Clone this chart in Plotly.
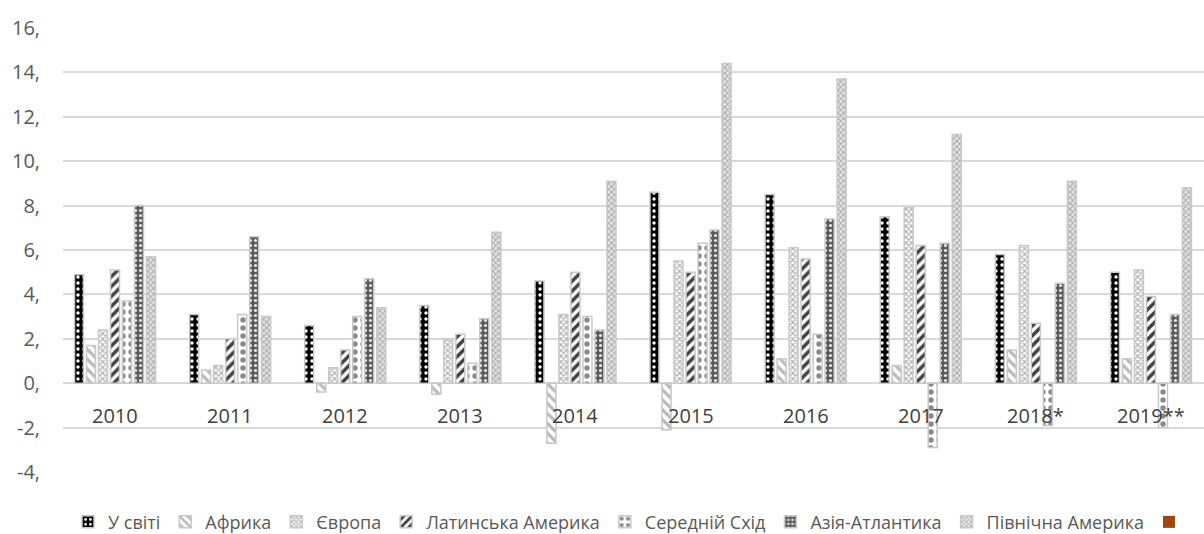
import plotly.graph_objects as go

# Annual growth by region, %
years = ["2010", "2011", "2012", "2013", "2014", "2015", "2016", "2017", "2018*", "2019**"]

world = [4.9, 3.1, 2.6, 3.5, 4.6, 8.6, 8.5, 7.5, 5.8, 5.0]
africa = [1.7, 0.6, -0.4, -0.5, -2.7, -2.1, 1.1, 0.8, 1.5, 1.1]
europe = [2.4, 0.8, 0.7, 2.0, 3.1, 5.5, 6.1, 7.9, 6.2, 5.1]
latam = [5.1, 2.0, 1.5, 2.2, 5.0, 5.0, 5.6, 6.2, 2.7, 3.9]
mideast = [3.7, 3.1, 3.0, 0.9, 3.0, 6.3, 2.2, -2.9, -1.9, -2.0]
asia = [8.0, 6.6, 4.7, 2.9, 2.4, 6.9, 7.4, 6.3, 4.5, 3.1]
namerica = [5.7, 3.0, 3.4, 6.8, 9.1, 14.4, 13.7, 11.2, 9.1, 8.8]

series_names = ["У світі", "Африка", "Європа", "Латинська Америка",
                "Середній Схід", "Азія-Атлантика", "Північна Америка"]

ytick_vals = [-4, -2, 0, 2, 4, 6, 8, 10, 12, 14, 16]
ytick_text = ["-4,", "-2,", "0,", "2,", "4,", "6,", "8,", "10,", "12,", "14,", "16,"]

FONT = "Open Sans"

# pattern styles per series: (shape, bg, fg, size, solidity)
styles = [
    (".", "#000000", "#ffffff", 6, 0.25),
    ("\\", "#ffffff", "#b8b8b8", 7, 0.45),
    ("x", "#ffffff", "#b0b0b0", 4, 0.5),
    ("/", "#ffffff", "#404040", 7, 0.5),
    (".", "#ffffff", "#8a8a8a", 8, 0.35),
    (".", "#5a5a5a", "#e8e8e8", 5, 0.3),
    ("x", "#e6e6e6", "#a8a8a8", 4, 0.45),
]

values = [world, africa, europe, latam, mideast, asia, namerica]

fig = go.Figure()
for name, vals, (shape, bg, fg, size, sol) in zip(series_names, values, styles):
    fig.add_trace(go.Bar(
        x=years, y=vals, name=name,
        marker=dict(
            color=bg,
            line=dict(color="#c8c8c8", width=1.5),
            pattern=dict(shape=shape, bgcolor=bg, fgcolor=fg, size=size,
                         solidity=sol, fillmode="replace"),
        ),
    ))

# unnamed extra series: legend swatch only, kept on its own hidden axis
fig.add_trace(go.Bar(x=[0], y=[0], name=" ", xaxis="x2",
                     marker=dict(color="#A0460F", line=dict(width=0))))

# category labels sitting just under the zero line
for i, yr in enumerate(years):
    fig.add_annotation(x=i, y=0, xref="x", yref="y", text=yr, showarrow=False,
                       yanchor="top", yshift=-17,
                       font=dict(family=FONT, size=20, color="#404040"))

fig.update_layout(
    width=1204, height=534,
    margin=dict(l=63, r=0, t=28, b=62, autoexpand=False),
    paper_bgcolor="white", plot_bgcolor="white",
    barmode="group", bargap=0.27, bargroupgap=0.25,
    showlegend=True,
    legend=dict(orientation="h", x=0.5, xanchor="center", y=-0.113, yanchor="middle",
                font=dict(family=FONT, size=18, color="#595959"),
                itemwidth=30, tracegroupgap=0),
    xaxis=dict(type="category", showticklabels=False, showgrid=False, zeroline=False,
               range=[-0.452, 9.461]),
    xaxis2=dict(overlaying="x", visible=False, range=[10, 11]),
    yaxis=dict(range=[-4, 16], tickvals=ytick_vals, ticktext=ytick_text,
               showgrid=True, gridcolor="#d9d9d9", gridwidth=1.5,
               zeroline=True, zerolinecolor="#d9d9d9", zerolinewidth=1.5,
               ticks="", ticklabelstandoff=22,
               tickfont=dict(family=FONT, size=20, color="#595959")),
)

fig.write_html("out.html")
